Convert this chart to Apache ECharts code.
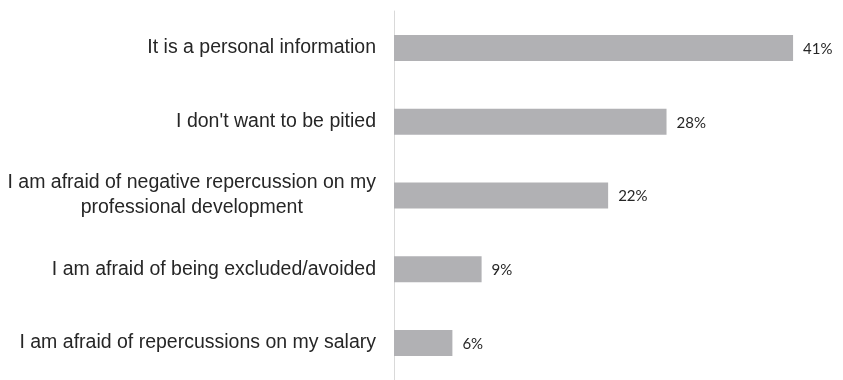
<!DOCTYPE html>
<html>
<head>
<meta charset="utf-8">
<script src="https://cdn.jsdelivr.net/npm/echarts@6/dist/echarts.min.js"></script>
<style>
  html, body { margin: 0; padding: 0; background: #fff; }
  #chart { width: 843px; height: 380px; }
</style>
</head>
<body>
<div id="chart"></div>
<script>
// Reasons for not disclosing, share of respondents (%)
const categories = [
  "It is a personal information",
  "I don't want to be pitied",
  "I am afraid of negative repercussion on my\nprofessional development",
  "I am afraid of being excluded/avoided",
  "I am afraid of repercussions on my salary"
];
const shares = [41, 28, 22, 9, 6];

const labelFont = {
  color: '#262626',
  fontFamily: 'Liberation Sans, Arial, sans-serif',
  fontSize: 19.5,
  lineHeight: 25
};

const chart = echarts.init(document.getElementById('chart'));
chart.setOption({
  animation: false,
  grid: { left: 394, right: 11, top: 11, bottom: -4, containLabel: false },
  xAxis: {
    type: 'value',
    min: 0,
    max: 45,
    show: false
  },
  yAxis: {
    type: 'category',
    inverse: true,
    data: categories,
    axisLine: { show: true, lineStyle: { color: '#d9d9d9', width: 1 } },
    axisTick: { show: false },
    axisLabel: Object.assign({
      margin: 18,
      align: 'right',
      // wrapped lines are centred on each other, block sits right against the axis
      formatter: v => v.split('\n').map(s => '{c|' + s + '}').join('\n'),
      rich: { c: Object.assign({ align: 'center' }, labelFont) }
    }, labelFont)
  },
  series: [{
    type: 'bar',
    data: shares,
    barWidth: 26,
    itemStyle: { color: '#b1b1b4' },
    label: {
      show: true,
      position: 'right',
      distance: 10,
      offset: [0, 1],
      formatter: p => p.value + '%',
      color: '#262626',
      fontFamily: 'Lato, sans-serif',
      fontSize: 15
    }
  }]
});
</script>
</body>
</html>
